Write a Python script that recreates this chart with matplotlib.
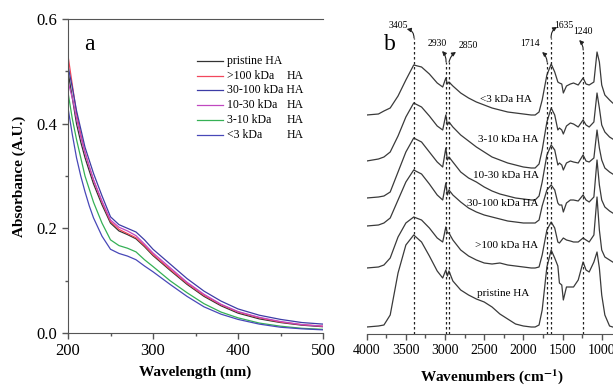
import matplotlib
matplotlib.use('Agg')
import matplotlib.pyplot as plt
from matplotlib.ticker import MultipleLocator

plt.rcParams['font.family'] = 'Liberation Serif'
plt.rcParams['mathtext.fontset'] = 'stix'

# ---- panel a: UV-vis absorbance ----
nm = [200, 205, 210, 215, 220, 225, 230, 240, 250, 260, 270, 280, 290, 300,
      320, 340, 360, 380, 400, 425, 450, 475, 500]
uv_pristine = [0.50, 0.45, 0.40, 0.365, 0.335, 0.31, 0.285, 0.245, 0.21, 0.195, 0.188, 0.18,
               0.165, 0.148, 0.12, 0.093, 0.07, 0.052, 0.038, 0.027, 0.02, 0.015, 0.012]
uv_gt100 = [0.53, 0.475, 0.42, 0.38, 0.345, 0.318, 0.292, 0.25, 0.213, 0.198, 0.19, 0.182,
            0.167, 0.15, 0.122, 0.095, 0.072, 0.054, 0.04, 0.029, 0.021, 0.016, 0.013]
uv_30_100 = [0.51, 0.47, 0.425, 0.39, 0.355, 0.33, 0.305, 0.262, 0.222, 0.207, 0.2, 0.193,
             0.178, 0.16, 0.132, 0.104, 0.08, 0.061, 0.046, 0.034, 0.026, 0.02, 0.017]
uv_10_30 = [0.48, 0.45, 0.41, 0.375, 0.345, 0.318, 0.293, 0.252, 0.216, 0.202, 0.195, 0.186,
            0.17, 0.153, 0.125, 0.097, 0.074, 0.055, 0.041, 0.03, 0.022, 0.016, 0.013]
uv_3_10 = [0.46, 0.41, 0.37, 0.335, 0.30, 0.275, 0.25, 0.21, 0.178, 0.167, 0.162, 0.155,
           0.14, 0.127, 0.1, 0.077, 0.056, 0.04, 0.029, 0.019, 0.013, 0.009, 0.007]
uv_lt3 = [0.43, 0.38, 0.335, 0.30, 0.27, 0.243, 0.22, 0.185, 0.16, 0.152, 0.147, 0.14,
          0.128, 0.117, 0.093, 0.07, 0.05, 0.036, 0.026, 0.017, 0.011, 0.008, 0.006]

uv_series = [uv_pristine, uv_gt100, uv_30_100, uv_10_30, uv_3_10, uv_lt3]
uv_names = ['pristine HA', '>100 kDa', '30-100 kDa HA', '10-30 kDa', '3-10 kDa', '<3 kDa']
uv_colors = ['#333333', '#f2475c', '#3c3ca6', '#c048c0', '#35b055', '#4848b8']

# ---- panel b: FTIR spectra (height above each trace's own baseline) ----
wn = [4000, 3850, 3780, 3700, 3600, 3500, 3400, 3300, 3200, 3100, 3030, 2990, 2970, 2950,
      2900, 2800, 2700, 2600, 2500, 2400, 2300, 2200, 2100, 2000, 1900, 1850, 1800, 1760,
      1700, 1645, 1600, 1560, 1540, 1510, 1490, 1450, 1400, 1360, 1300, 1238, 1200, 1160,
      1100, 1060, 1030, 1000, 960, 900, 860]
ir_lt3 = [0, 1, 4, 7, 19, 35, 50, 48, 41, 32, 28, 37, 31, 33, 29, 22, 17, 13, 10, 7, 5, 3, 2, 1,
          0, 0, 3, 15, 40, 51, 43, 33, 32, 31, 22, 29, 31, 32, 30, 37, 31, 30, 33, 63, 53, 30,
          20, 15, 12]
ir_3_10 = [0, 2, 4, 9, 25, 44, 58, 54, 45, 35, 31, 46, 36, 39, 34, 26, 20, 14, 9, 4, 1, -2, -4,
           -6, -7, -7, -3, 11, 39, 53, 46, 31, 33, 31, 27, 35, 38, 37, 34, 41, 36, 34, 39, 68,
           53, 36, 29, 24, 22]
ir_10_30 = [-1, 0, 1, 5, 25, 45, 59, 55, 45, 35, 30, 49, 37, 40, 35, 25, 19, 15, 10, 6, 3, 1,
            -1, -2, -3, -3, 1, 15, 42, 52, 47, 32, 34, 32, 27, 34, 36, 35, 34, 42, 36, 35, 39,
            67, 49, 37, 29, 25, 23]
ir_30_100 = [0, 1, 3, 8, 26, 44, 56, 52, 42, 31, 26, 43, 31, 36, 31, 24, 18, 14, 11, 9, 7, 5,
             4, 3, 3, 3, 6, 20, 36, 41, 36, 23, 21, 21, 14, 23, 26, 26, 25, 31, 26, 24, 29, 66,
             41, 26, 19, 15, 13]
ir_gt100 = [0, 1, 3, 10, 31, 45, 51, 48, 40, 30, 26, 41, 35, 35, 28, 18, 12, 8, 5, 4, 5, 3, 2,
            1, 0, 0, 1, 13, 38, 46, 40, 26, 25, 28, 30, 28, 27, 26, 26, 30, 28, 26, 33, 71, 38,
            18, 11, 8, 6]
ir_pristine = [0, 1, 2, 12, 54, 82, 92, 85, 71, 56, 49, 57, 51, 56, 46, 37, 32, 28, 25, 20, 13,
               8, 3, 1, 0, 0, 2, 17, 60, 77, 69, 61, 44, 42, 27, 40, 40, 40, 47, 65, 57, 55, 65,
               75, 59, 32, 12, 1, 0]

ir_series = [ir_lt3, ir_3_10, ir_10_30, ir_30_100, ir_gt100, ir_pristine]
ir_names = ['<3 kDa HA', '3-10 kDa HA', '10-30 kDa HA', '30-100 kDa HA', '>100 kDa HA', 'pristine HA']
ir_offsets = [219, 173, 137, 108, 66, 7]

peak_labels = ['3405', '2930', '2850', '1714', '1635', '1240']
peak_lines = [3396, 2990, 2950, 1700, 1648, 1238]

fig = plt.figure(figsize=(6.13, 3.86), dpi=100)

# ---------------- panel a ----------------
ax = fig.add_axes([68 / 613, 53 / 386, 255 / 613, 314 / 386])
for vals, c in zip(uv_series, uv_colors):
    ax.plot(nm, vals, color=c, lw=0.9)
ax.set_xlim(200, 500)
ax.set_ylim(0, 0.6)
ax.xaxis.set_major_locator(MultipleLocator(100))
ax.xaxis.set_minor_locator(MultipleLocator(50))
ax.yaxis.set_major_locator(MultipleLocator(0.2))
ax.yaxis.set_minor_locator(MultipleLocator(0.1))
ax.yaxis.set_major_formatter(matplotlib.ticker.FormatStrFormatter('%.1f'))
ax.tick_params(which='major', direction='out', length=4, width=1, labelsize=12, colors='#555555',
               labelcolor='black')
ax.tick_params(which='minor', direction='out', length=2.5, width=1, colors='#555555')
ax.spines['right'].set_visible(False)
for s in ['left', 'bottom', 'top']:
    ax.spines[s].set_color('#555555')
ax.set_xlabel('Wavelength (nm)', fontsize=11, fontweight='bold')
ax.set_ylabel('Absorbance (A.U.)', fontsize=11, fontweight='bold')
ax.xaxis.set_label_coords(0.5, -0.105)
ax.yaxis.set_label_coords(-0.165, 0.5)
ax.text(0.082, 0.92, 'a', transform=ax.transAxes, fontsize=17, ha='center', va='center')

# hand-laid legend with an aligned "HA" column
rows_y = [0.866, 0.820, 0.773, 0.726, 0.679, 0.632]
for name, c, yy in zip(uv_names, uv_colors, rows_y):
    ax.plot([0.506, 0.608], [yy, yy], color=c, lw=0.9, transform=ax.transAxes)
    ax.text(0.624, yy, name, transform=ax.transAxes, fontsize=8.5, va='center')
    if not name.endswith('HA'):
        ax.text(0.922, yy, 'HA', transform=ax.transAxes, fontsize=8.5, va='center', ha='right')

# ---------------- panel b ----------------
bx = fig.add_axes([366.7 / 613, 52 / 386, 246.3 / 613, 334 / 386])
for vals, off in zip(ir_series, ir_offsets):
    bx.plot(wn, [v + off for v in vals], color='#3a3a3a', lw=0.9)
bx.set_xlim(4000, 856)
bx.set_ylim(0, 334)

label_pos = [(2221, 234), (2195, 194), (2221, 158), (2259, 130), (2221, 88), (2259, 41)]
for name, (lx, ly) in zip(ir_names, label_pos):
    bx.text(lx, ly, name, fontsize=8, ha='center', va='center')

line_tops = [296, 272, 272, 272, 296, 284]
for x, top in zip(peak_lines, line_tops):
    bx.plot([x, x], [0, top], color='#222222', lw=0.9, ls=(0, (2, 2)))

text_pos = [(3600, 308), (3102, 291), (2706, 289), (1914, 291), (1480, 309), (1238, 303)]
arrow_tail = [(3396, 296), (2987, 272), (2949, 272), (1697, 272), (1646, 296), (1237, 284)]
arrow_head = [(3489, 305), (3038, 283), (2860, 282), (1761, 282), (1570, 307), (1288, 294)]
rads = [0.4, 0.2, -0.2, 0.2, -0.3, 0.2]
for lab, tp, t, h, r in zip(peak_labels, text_pos, arrow_tail, arrow_head, rads):
    bx.text(tp[0], tp[1], lab, fontsize=7, ha='center', va='center')
    bx.annotate('', xy=h, xytext=t,
                arrowprops=dict(arrowstyle='-|>', color='#222222', lw=0.8, mutation_scale=6,
                                shrinkA=0, shrinkB=0, connectionstyle='arc3,rad=%s' % r))
bx.text(3710, 289, 'b', fontsize=17, ha='center', va='center')

for s in ['left', 'right', 'top']:
    bx.spines[s].set_visible(False)
bx.spines['bottom'].set_color('#555555')
bx.set_yticks([])
bx.xaxis.set_major_locator(MultipleLocator(500))
bx.xaxis.set_minor_locator(MultipleLocator(250))
bx.tick_params(which='major', direction='out', length=4, width=1, labelsize=10, colors='#555555',
               labelcolor='black')
bx.tick_params(which='minor', direction='out', length=3, width=1, colors='#555555')
bx.set_xlabel(r'Wavenumbers (cm$^{\mathbf{-1}}$)', fontsize=11, fontweight='bold')
bx.xaxis.set_label_coords(0.51, -0.1)

fig.savefig('out.png', dpi=100)
